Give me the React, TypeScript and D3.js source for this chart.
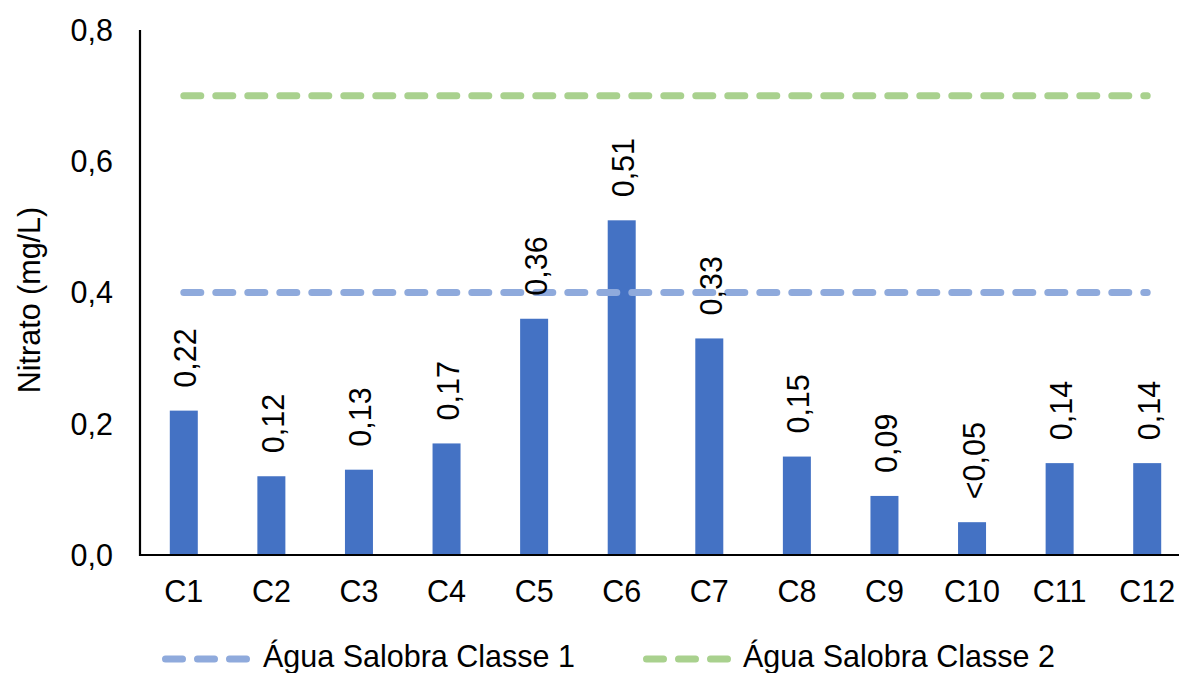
import React from 'react'
import * as d3 from 'd3'

// chart data
const categories = ['C1', 'C2', 'C3', 'C4', 'C5', 'C6', 'C7', 'C8', 'C9', 'C10', 'C11', 'C12']
const nitrato = [0.22, 0.12, 0.13, 0.17, 0.36, 0.51, 0.33, 0.15, 0.09, 0.05, 0.14, 0.14]
const valueLabels = ['0,22', '0,12', '0,13', '0,17', '0,36', '0,51', '0,33', '0,15', '0,09', '<0,05', '0,14', '0,14']
const yTicks = [0, 0.2, 0.4, 0.6, 0.8]
const limitClasse1 = 0.4
const limitClasse2 = 0.7
const legendNames = ['Água Salobra Classe 1', 'Água Salobra Classe 2']

const W = 1179
const H = 673
const FONT = 'Arial, "Liberation Sans", sans-serif'
const FS = 30.5
const BAR = '#4472C4'
const BLUE = '#8FAADC'
const GREEN = '#A9D18E'

const App: React.FC = () => {
  const x = d3.scaleBand<string>().domain(categories).range([140, 1191]).padding(0)
  const y = d3.scaleLinear().domain([0, 0.8]).range([555, 30])
  const bw = x.bandwidth()
  const barW = 28
  const cx = (c: string) => (x(c) || 0) + bw / 2

  const limitLine = (v: number) =>
    d3.line<string>()
      .x(c => cx(c))
      .y(() => y(v))([categories[0], categories[categories.length - 1]]) || ''

  const fmt = (v: number) => v.toFixed(1).replace('.', ',')

  return (
    <svg width={W} height={H} style={{ position: 'absolute', left: 0, top: 0, background: '#fff' }} fontFamily={FONT}>
      {/* y axis ticks */}
      {yTicks.map(t => (
        <text key={t} x={113} y={y(t)} dy="0.36em" textAnchor="end" fontSize={FS} fill="#000">
          {fmt(t)}
        </text>
      ))}
      <text transform={`translate(40,300) rotate(-90)`} textAnchor="middle" fontSize={FS} fill="#000">
        Nitrato (mg/L)
      </text>

      {/* bars */}
      {categories.map((c, i) => (
        <rect key={c} x={cx(c) - barW / 2} y={y(nitrato[i])} width={barW} height={y(0) - y(nitrato[i])} fill={BAR} />
      ))}

      {/* threshold lines */}
      <path d={limitLine(limitClasse1)} stroke={BLUE} strokeWidth={7} strokeDasharray="17 15" strokeLinecap="round" fill="none" />
      <path d={limitLine(limitClasse2)} stroke={GREEN} strokeWidth={7} strokeDasharray="17 15" strokeLinecap="round" fill="none" />

      {/* value labels */}
      {categories.map((c, i) => (
        <text key={c} transform={`translate(${cx(c) + 12.5},${y(nitrato[i]) - 23}) rotate(-90)`} fontSize={FS} fill="#000">
          {valueLabels[i]}
        </text>
      ))}

      {/* axes */}
      <line x1={140} x2={W} y1={y(0)} y2={y(0)} stroke="#000" strokeWidth={2.2} />
      <line x1={140} x2={140} y1={y(0.8)} y2={y(0) + 1} stroke="#000" strokeWidth={2.2} />

      {/* category labels */}
      {categories.map(c => (
        <text key={c} x={cx(c)} y={602} textAnchor="middle" fontSize={FS} fill="#000">
          {c}
        </text>
      ))}

      {/* legend */}
      <line x1={165.5} x2={248.5} y1={659} y2={659} stroke={BLUE} strokeWidth={7} strokeDasharray="17 15" strokeLinecap="round" />
      <text x={263} y={667} fontSize={FS} fill="#000">{legendNames[0]}</text>
      <line x1={646.5} x2={729.5} y1={659} y2={659} stroke={GREEN} strokeWidth={7} strokeDasharray="17 15" strokeLinecap="round" />
      <text x={743} y={667} fontSize={FS} fill="#000">{legendNames[1]}</text>
    </svg>
  )
}

export default App
